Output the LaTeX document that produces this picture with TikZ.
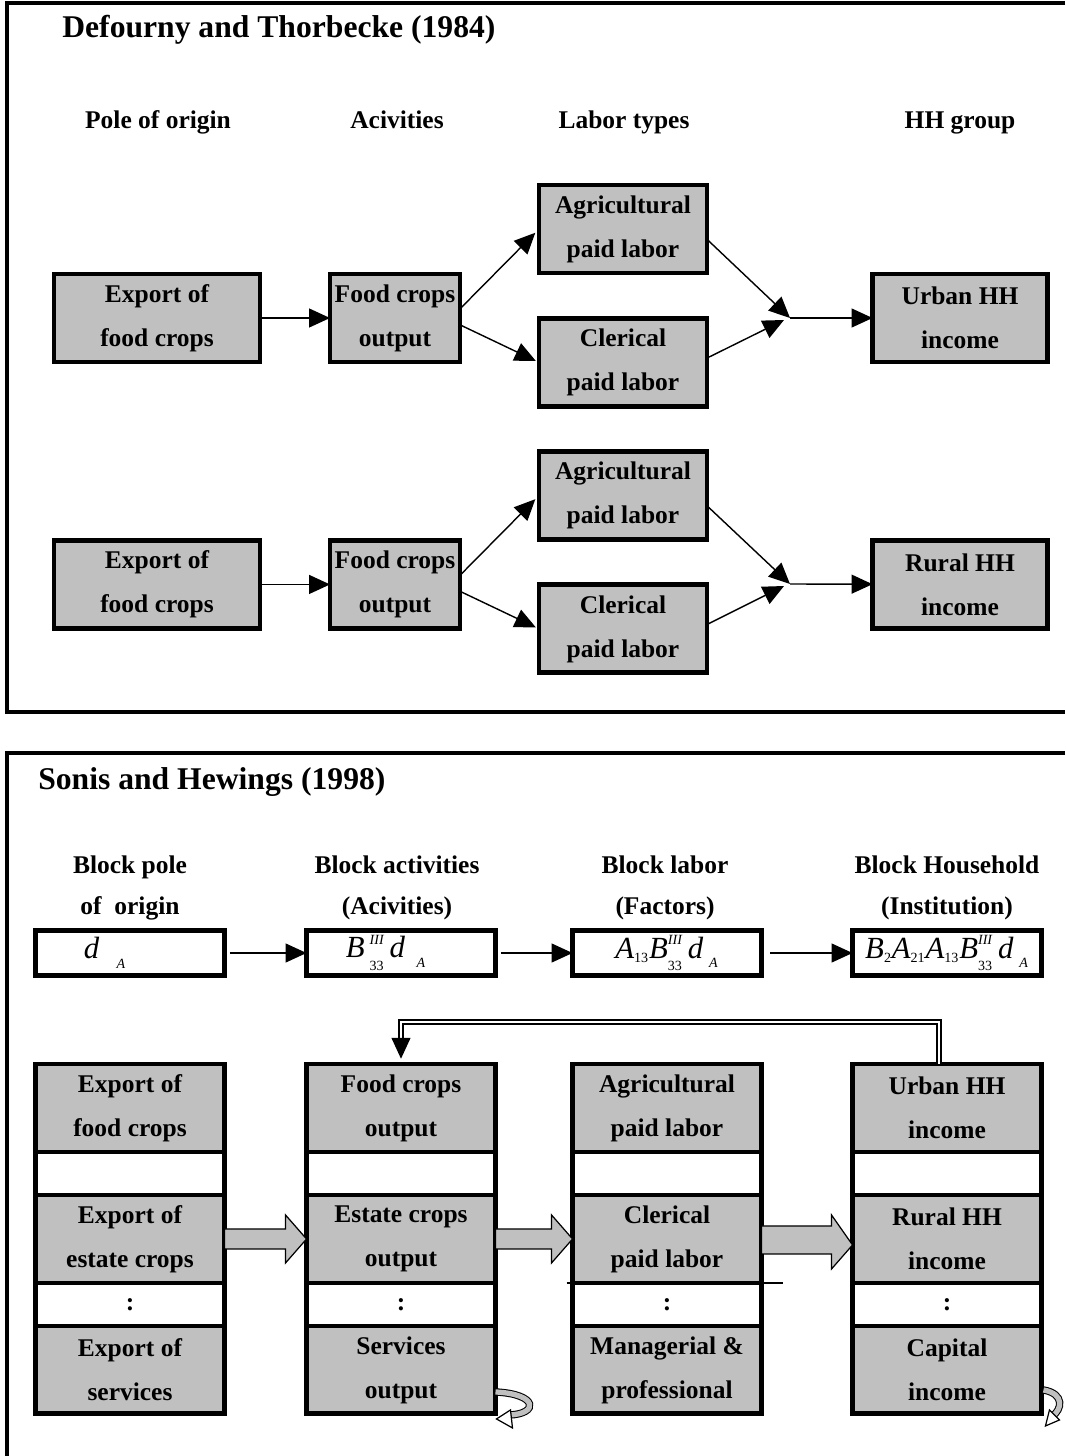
\documentclass[tikz,border=0pt]{standalone}
\usepackage{fontspec}
\setmainfont{Liberation Serif}
\usepackage{amsmath}
\usetikzlibrary{positioning,arrows.meta,calc}
\definecolor{boxgray}{HTML}{C0C0C0}
\newcommand{\boxfont}{\fontsize{14.5}{25}\selectfont\bfseries}
\newcommand{\sx}[1]{\text{\fontsize{8}{8}\selectfont #1}}
\newcommand{\supsub}[2]{^{\raisebox{1pt}{\sx{\itshape #1}}}_{\raisebox{-3pt}{\sx{#2}}}}

\tikzstyle{cell} = [rectangle,
                    minimum height=1.76cm,
                    text centered,
                    align=center,
                    font=\boxfont,
                    outer sep=0pt,
                    fill=boxgray,
                    draw=black,
                    line width=2.8pt]
\tikzstyle{gap} = [cell, fill=white, minimum height=0.86cm]
\tikzstyle{colw} = [minimum width=3.78cm]
\tikzstyle{formula} = [rectangle,
                       minimum width=3.78cm,
                       minimum height=0.9cm,
                       inner sep=1pt,
                       outer sep=0pt,
                       fill=white,
                       draw=black,
                       line width=2.6pt,
                       font=\fontsize{17.5}{18}\selectfont]
\tikzstyle{head} = [align=center, font=\fontsize{14.5}{23}\selectfont\bfseries]
\tikzstyle{arr} = [-{Triangle[length=0.42cm,width=0.38cm]}, line width=0.8pt]
\tikzstyle{frame} = [line width=2.3pt]
\tikzstyle{blockarr} = [fill=boxgray, draw=black, line width=0.7pt]
\tikzstyle{loopband} = [double=boxgray, double distance=3pt, line width=0.6pt]

\begin{document}
\begin{tikzpicture}[x=0.02cm, y=-0.02cm]
\useasboundingbox (0,0) rectangle (1065,1456);

% Defourny and Thorbecke
\draw[frame] (1065,3) -- (7,3) -- (7,712) -- (1065,712);
\node (t1) [anchor=base west, inner sep=0pt, font=\fontsize{18}{20}\selectfont\bfseries] at (62,38) {Defourny and Thorbecke (1984)};

\node (p1) [head, anchor=base] at (158,129) {Pole of origin};
\node (p2) [head, anchor=base] at (397,129) {Acivities};
\node (p3) [head, anchor=base] at (624,129) {Labor types};
\node (p4) [head, anchor=base] at (960,129) {HH group};

\node (ex1) [cell, minimum width=4.12cm] at (157,318) {Export of\\food crops};
\node (fc1) [cell, minimum width=2.6cm, inner xsep=2pt] at (395,318) {Food crops\\output};
\node (ag1) [cell, minimum width=3.36cm] at (623,229) {Agricultural\\paid labor};
\node (cl1) [cell, minimum width=3.36cm, below=0.91cm of ag1] {Clerical\\paid labor};
\node (urb) [cell, minimum width=3.5cm] at (960,318) {Urban HH\\income};
\coordinate (j1) at (790,318);

\node (ex2) [cell, minimum width=4.12cm, below=3.57cm of ex1] {Export of\\food crops};
\node (fc2) [cell, minimum width=2.6cm, inner xsep=2pt, below=3.57cm of fc1] {Food crops\\output};
\node (ag2) [cell, minimum width=3.36cm, below=3.57cm of ag1] {Agricultural\\paid labor};
\node (cl2) [cell, minimum width=3.36cm, below=0.91cm of ag2] {Clerical\\paid labor};
\node (rur) [cell, minimum width=3.5cm, below=3.57cm of urb] {Rural HH\\income};
\coordinate (j2) at (790,584);

\draw[arr] (ex1) -- (fc1);
\draw[arr, shorten >=3pt] (fc1.8) -- (ag1.west);
\draw[arr, shorten >=2pt] (fc1.-6) -- (cl1.west);
\draw[arr] (ag1.-7) -- (j1);
\draw[arr] (cl1.3) -- ($(j1)+(-6,2)$);
\draw[arr] (j1) -- (urb);

\draw[arr] (ex2) -- (fc2);
\draw[arr, shorten >=3pt] (fc2.8) -- (ag2.west);
\draw[arr, shorten >=2pt] (fc2.-6) -- (cl2.west);
\draw[arr] (ag2.-7) -- (j2);
\draw[arr] (cl2.3) -- ($(j2)+(-6,2)$);
\draw[arr] (j2) -- (rur);

% Sonis and Hewings
\draw[frame] (1065,753) -- (7,753) -- (7,1456);
\node (t2) [anchor=base west, inner sep=0pt, font=\fontsize{18}{20}\selectfont\bfseries] at (38,789) {Sonis and Hewings (1998)};

\node (b1) [head] at (130,888) {Block pole\\of~ origin};
\node (b2) [head] at (397,888) {Block activities\\(Acivities)};
\node (b3) [head] at (665,888) {Block labor\\(Factors)};
\node (b4) [head] at (947,888) {Block Household\\(Institution)};

\node (f1) [formula] at (130,953) {$\textit{d}_{\;\;\;\raisebox{-3pt}{\sx{\itshape A}}}$\hspace*{1cm}};
\node (f2) [formula] at (401,953) {$\textit{B}\,\supsub{III}{33}\,\textit{d}_{\;\;\raisebox{-3pt}{\sx{\itshape A}}}$\hspace*{0.6cm}};
\node (f3) [formula] at (667,953) {$\textit{A}_{\sx{13}}\textit{B}\supsub{III}{33}\,\textit{d}_{\;\raisebox{-3pt}{\sx{\itshape A}}}$};
\node (f4) [formula] at (947,953) {$\textit{B}_{\sx{2}}\textit{A}_{\sx{21}}\textit{A}_{\sx{13}}\textit{B}\supsub{III}{33}\,\textit{d}_{\;\raisebox{-3pt}{\sx{\itshape A}}}$};

\draw[arr, shorten <=3pt] (f1) -- (f2);
\draw[arr, shorten <=3pt] (f2) -- (f3);
\draw[arr, shorten <=5pt] (f3) -- (f4);

\node (c1a) [cell, colw] at (130,1108) {Export of\\food crops};
\node (c1b) [gap, colw, below=0pt of c1a] {};
\node (c1c) [cell, colw, below=0pt of c1b] {Export of\\estate crops};
\node (c1d) [gap, colw, below=0pt of c1c] {:};
\node (c1e) [cell, colw, below=0pt of c1d] {Export of\\services};

\node (c2a) [cell, colw] at (401,1108) {Food crops\\output};
\node (c2b) [gap, colw, below=0pt of c2a] {};
\node (c2c) [cell, colw, below=0pt of c2b] {Estate crops\\output};
\node (c2d) [gap, colw, below=0pt of c2c] {:};
\node (c2e) [cell, colw, below=0pt of c2d] {Services\\output};

\node (c3a) [cell, colw] at (667,1108) {Agricultural\\paid labor};
\node (c3b) [gap, colw, below=0pt of c3a] {};
\node (c3c) [cell, colw, below=0pt of c3b] {Clerical\\paid labor};
\node (c3d) [gap, colw, below=0pt of c3c] {:};
\node (c3e) [cell, colw, below=0pt of c3d] {Managerial \&\\professional};

\node (c4a) [cell, colw] at (947,1108) {Urban HH\\income};
\node (c4b) [gap, colw, below=0pt of c4a] {};
\node (c4c) [cell, colw, below=0pt of c4b] {Rural HH\\income};
\node (c4d) [gap, colw, below=0pt of c4c] {:};
\node (c4e) [cell, colw, below=0pt of c4d] {Capital\\income};

\draw[line width=0.6pt] ($(c3c.south west)+(-6,0)$) -- ($(c3c.south east)+(22,0)$);

% block arrows between columns
\draw[blockarr] ($(c1c.east)+(0,-10)$) -- ($(c2c.west)+(-21,-10)$) -- ($(c2c.west)+(-21,-24)$) -- (c2c.west)
    -- ($(c2c.west)+(-21,24)$) -- ($(c2c.west)+(-21,10)$) -- ($(c1c.east)+(0,10)$) -- cycle;
\draw[blockarr] ($(c2c.east)+(0,-10)$) -- ($(c3c.west)+(-21,-10)$) -- ($(c3c.west)+(-21,-24)$) -- (c3c.west)
    -- ($(c3c.west)+(-21,24)$) -- ($(c3c.west)+(-21,10)$) -- ($(c2c.east)+(0,10)$) -- cycle;
\draw[blockarr] ($(c3c.east)+(0,-13)$) -- ($(c4c.west)+(-21,-13)$) -- ($(c4c.west)+(-21,-24)$) -- ($(c4c.west)+(0,6)$)
    -- ($(c4c.west)+(-21,30)$) -- ($(c4c.west)+(-21,15)$) -- ($(c3c.east)+(0,15)$) -- cycle;

% feedback from households to activities
\draw[double, double distance=1.6pt, line width=0.7pt] ($(c4a.north)+(-8,0)$) |- ($(c2a.north)+(0,-42)$) -- ++(0,18);
\draw[arr, shorten >=3pt] ($(c2a.north)+(0,-26)$) -- (c2a.north);

% own effects
\draw[loopband] ($(c2e.east)+(0,22)$) .. controls +(43,2) and +(29,-1) .. ($(c2e.east)+(14,45)$);
\draw[fill=white, line width=0.7pt] ($(c2e.east)+(1,49)$) -- ($(c2e.east)+(15,40)$) -- ($(c2e.east)+(17,58)$) -- cycle;
\draw[loopband] ($(c4e.east)+(2,20)$) .. controls +(22,4) and +(9,-6) .. ($(c4e.east)+(11,46)$);
\draw[fill=white, line width=0.7pt] ($(c4e.east)+(4,56)$) -- ($(c4e.east)+(8,40)$) -- ($(c4e.east)+(18,50)$) -- cycle;
\end{tikzpicture}
\end{document}
